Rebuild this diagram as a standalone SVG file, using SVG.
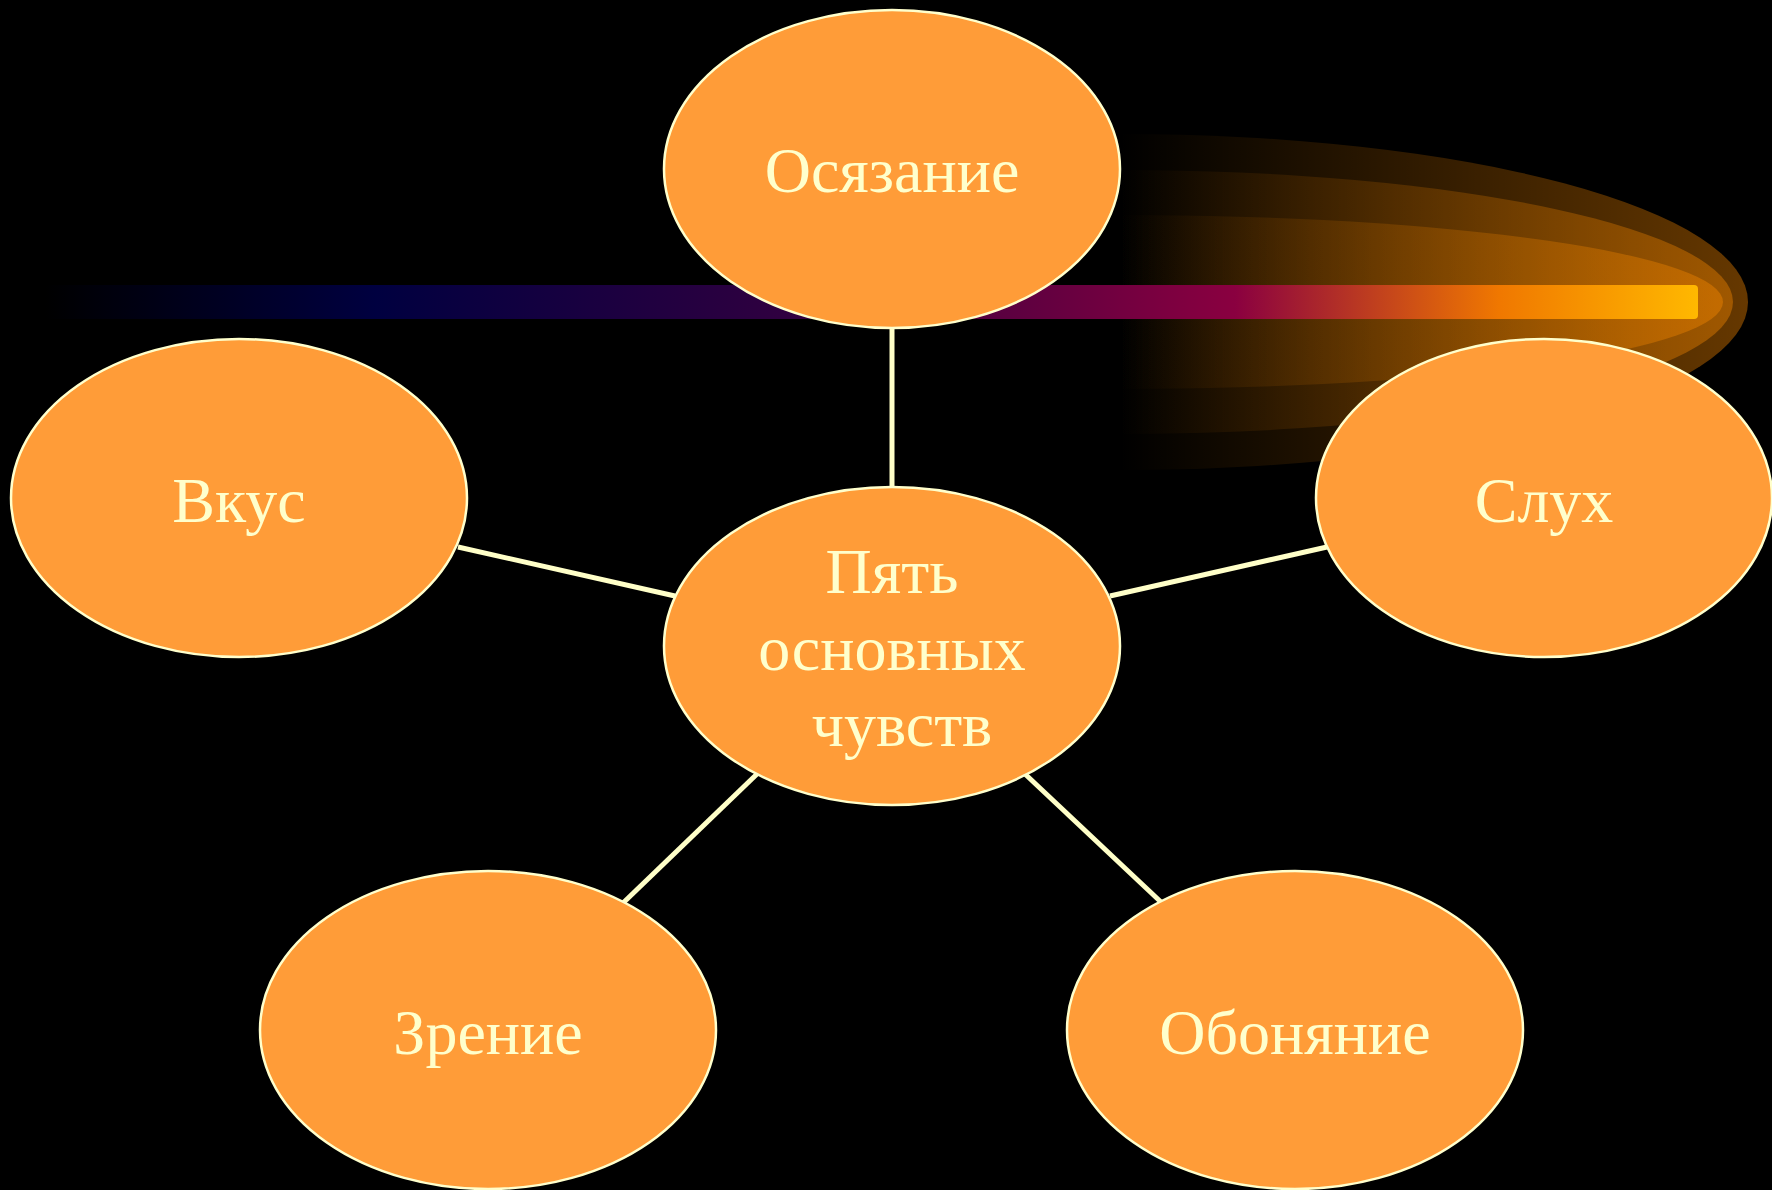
<svg xmlns="http://www.w3.org/2000/svg" width="1772" height="1190" viewBox="0 0 1772 1190">
<style>
.node{fill:#ff9c38;stroke:#ffffcc;stroke-width:2.5}
.lbl{font-family:"Liberation Serif","Times New Roman",serif;font-size:64px;fill:#ffffcc;text-anchor:middle}
.conn{stroke:#ffffc8;stroke-width:5;fill:none}
</style>
<defs>
<linearGradient id="bar" x1="45" y1="0" x2="1698" y2="0" gradientUnits="userSpaceOnUse">
<stop offset="0" stop-color="#000000"/>
<stop offset="0.2" stop-color="#000040"/>
<stop offset="0.45" stop-color="#300040"/>
<stop offset="0.72" stop-color="#8a0040"/>
<stop offset="0.88" stop-color="#f07800"/>
<stop offset="1" stop-color="#ffb800"/>
</linearGradient>
<linearGradient id="glow" x1="1120" y1="0" x2="1748" y2="0" gradientUnits="userSpaceOnUse">
<stop offset="0" stop-color="#ff8c00" stop-opacity="0"/>
<stop offset="1" stop-color="#ff8c00" stop-opacity="0.4"/>
</linearGradient>
</defs>
<rect width="1772" height="1190" fill="#000"/>
<g id="glow-deco">
<path d="M1120,134 A628,168 0 0 1 1120,470 Z" fill="url(#glow)"/>
<path d="M1120,170 A613,132 0 0 1 1120,434 Z" fill="url(#glow)"/>
<path d="M1120,215 A603,87 0 0 1 1120,389 Z" fill="url(#glow)"/>
<rect x="45" y="285" width="1653" height="34" rx="4" fill="url(#bar)"/>
</g>
<g id="connectors">
<line class="conn" x1="892" y1="328" x2="892" y2="488"/>
<line class="conn" x1="458" y1="547" x2="675" y2="596"/>
<line class="conn" x1="1110" y1="596" x2="1327" y2="547"/>
<line class="conn" x1="757" y1="774" x2="623" y2="903"/>
<line class="conn" x1="1025" y1="774" x2="1162" y2="903"/>
</g>
<g id="node-top">
<ellipse class="node" cx="892" cy="169" rx="228" ry="159"/>
<text class="lbl" x="892" y="192">Осязание</text>
</g>
<g id="node-center">
<ellipse class="node" cx="892" cy="646" rx="228" ry="159"/>
<text class="lbl" x="892" y="593">Пять</text>
<text class="lbl" x="892" y="670">основных</text>
<text class="lbl" x="902" y="746">чувств</text>
</g>
<g id="node-left">
<ellipse class="node" cx="239" cy="498" rx="228" ry="159"/>
<text class="lbl" x="239" y="522">Вкус</text>
</g>
<g id="node-right">
<ellipse class="node" cx="1544" cy="498" rx="228" ry="159"/>
<text class="lbl" x="1544" y="522">Слух</text>
</g>
<g id="node-bottom-left">
<ellipse class="node" cx="488" cy="1030" rx="228" ry="159"/>
<text class="lbl" x="488" y="1054">Зрение</text>
</g>
<g id="node-bottom-right">
<ellipse class="node" cx="1295" cy="1030" rx="228" ry="159"/>
<text class="lbl" x="1295" y="1054">Обоняние</text>
</g>
</svg>
